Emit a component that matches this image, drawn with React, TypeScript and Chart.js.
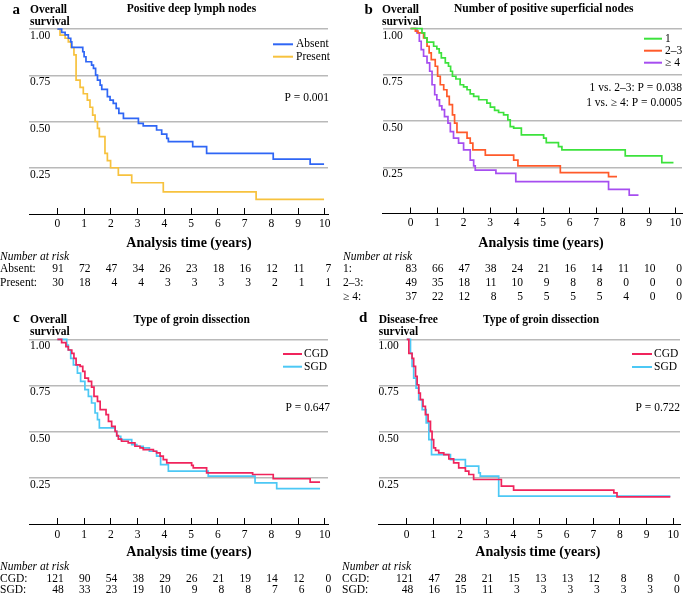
import React, { useEffect, useRef } from "react";
import { Chart, registerables } from "chart.js";

Chart.register(...registerables);

const SERIF = '"Liberation Serif", "Times New Roman", Times, serif';

// ---------- shared axis values ----------
const YEAR_TICKS = [0, 1, 2, 3, 4, 5, 6, 7, 8, 9, 10];
const SURV_TICKS = [0.25, 0.5, 0.75, 1];
const X_MIN = -1.06;

// ---------- panel a: positive deep lymph nodes ----------
const absentTime = [0, 0.16, 0.29, 0.41, 0.5, 0.54, 0.95, 1.0, 1.07, 1.28, 1.35, 1.43, 1.5, 1.6, 1.66, 1.87, 1.97, 2.09, 2.2, 2.3, 2.47, 3.03, 3.21, 3.71, 3.9, 4.09, 4.15, 5.06, 5.58, 8.07, 9.45, 9.97];
const absentSurv = [1, 0.982, 0.968, 0.95, 0.93, 0.901, 0.877, 0.85, 0.823, 0.805, 0.787, 0.751, 0.724, 0.697, 0.674, 0.634, 0.616, 0.598, 0.571, 0.544, 0.517, 0.49, 0.476, 0.454, 0.432, 0.409, 0.391, 0.364, 0.328, 0.297, 0.27, 0.27];
const presentTime = [0, 0.1, 0.29, 0.41, 0.51, 0.62, 0.7, 0.85, 0.97, 1.12, 1.22, 1.32, 1.41, 1.5, 1.57, 1.78, 1.87, 1.99, 2.28, 2.78, 3.96, 7.43, 9.97];
const presentSurv = [1, 0.967, 0.95, 0.93, 0.9, 0.86, 0.724, 0.685, 0.65, 0.616, 0.577, 0.535, 0.5, 0.463, 0.418, 0.328, 0.288, 0.25, 0.21, 0.169, 0.12, 0.079, 0.079];
const riskAbsent = [91, 72, 47, 34, 26, 23, 18, 16, 12, 11, 7];
const riskPresent = [30, 18, 4, 4, 3, 3, 3, 3, 2, 1, 1];

// ---------- panel b: number of positive superficial nodes ----------
const n1Time = [0, 0.43, 0.53, 0.62, 0.87, 0.99, 1.08, 1.16, 1.31, 1.43, 1.51, 1.58, 1.71, 1.87, 2.0, 2.13, 2.25, 2.38, 2.57, 2.88, 3.01, 3.17, 3.32, 3.51, 3.67, 3.76, 3.89, 4.18, 5.02, 5.12, 5.58, 5.71, 8.1, 9.48, 9.92];
const n1Surv = [1, 0.976, 0.949, 0.926, 0.904, 0.89, 0.868, 0.841, 0.814, 0.796, 0.769, 0.742, 0.727, 0.696, 0.684, 0.669, 0.647, 0.633, 0.615, 0.597, 0.575, 0.557, 0.546, 0.533, 0.506, 0.47, 0.461, 0.425, 0.407, 0.383, 0.362, 0.344, 0.311, 0.275, 0.275];
const n23Time = [0, 0.18, 0.28, 0.49, 0.62, 0.7, 0.78, 0.93, 1.02, 1.12, 1.25, 1.37, 1.46, 1.58, 1.66, 1.75, 2.13, 2.25, 2.35, 2.82, 3.89, 4.05, 5.65, 7.47, 7.79];
const n23Surv = [1, 0.986, 0.976, 0.949, 0.904, 0.868, 0.832, 0.796, 0.742, 0.696, 0.669, 0.633, 0.588, 0.533, 0.488, 0.438, 0.407, 0.38, 0.344, 0.316, 0.289, 0.257, 0.221, 0.199, 0.199];
const n4Time = [0, 0.24, 0.33, 0.4, 0.49, 0.62, 0.72, 0.81, 0.91, 0.99, 1.09, 1.18, 1.28, 1.41, 1.5, 1.62, 1.81, 2.0, 2.25, 2.38, 2.44, 3.22, 3.97, 7.47, 8.25, 8.6];
const n4Surv = [1, 0.976, 0.931, 0.886, 0.85, 0.814, 0.769, 0.696, 0.642, 0.615, 0.582, 0.561, 0.524, 0.488, 0.443, 0.407, 0.38, 0.344, 0.289, 0.257, 0.235, 0.217, 0.172, 0.13, 0.099, 0.099];
const riskN1 = [83, 66, 47, 38, 24, 21, 16, 14, 11, 10, 0];
const riskN23 = [49, 35, 18, 11, 10, 9, 8, 8, 0, 0, 0];
const riskN4 = [37, 22, 12, 8, 5, 5, 5, 5, 4, 0, 0];

// ---------- panel c: overall survival by groin dissection ----------
const cgdOsTime = [0, 0.16, 0.32, 0.41, 0.54, 0.62, 0.7, 0.85, 0.95, 1.03, 1.16, 1.28, 1.37, 1.5, 1.6, 1.82, 1.91, 2.03, 2.16, 2.22, 2.28, 2.4, 2.65, 2.9, 3.09, 3.21, 3.59, 3.71, 3.84, 3.96, 4.09, 5.02, 5.08, 5.58, 7.3, 8.07, 9.45, 9.82];
const cgdOsSurv = [1, 0.982, 0.96, 0.942, 0.924, 0.897, 0.862, 0.853, 0.826, 0.79, 0.772, 0.741, 0.691, 0.664, 0.619, 0.592, 0.556, 0.529, 0.502, 0.478, 0.46, 0.448, 0.439, 0.421, 0.412, 0.403, 0.394, 0.385, 0.367, 0.349, 0.331, 0.317, 0.304, 0.277, 0.268, 0.245, 0.227, 0.227];
const sgdOsTime = [0, 0.35, 0.41, 0.5, 0.6, 0.75, 0.87, 1.03, 1.16, 1.28, 1.41, 1.5, 1.57, 2.16, 2.22, 2.37, 2.78, 2.97, 3.21, 3.44, 3.71, 3.86, 4.15, 5.64, 7.39, 8.2, 9.82];
const sgdOsSurv = [1, 0.969, 0.942, 0.897, 0.862, 0.817, 0.772, 0.727, 0.691, 0.655, 0.601, 0.565, 0.52, 0.502, 0.475, 0.457, 0.43, 0.421, 0.412, 0.394, 0.367, 0.322, 0.286, 0.259, 0.223, 0.191, 0.191];
const riskCgdOs = [121, 90, 54, 38, 29, 26, 21, 19, 14, 12, 0];
const riskSgdOs = [48, 33, 23, 19, 10, 9, 8, 8, 7, 6, 0];

// ---------- panel d: disease-free survival by groin dissection ----------
const cgdDfsTime = [0, 0.08, 0.2, 0.26, 0.33, 0.39, 0.45, 0.51, 0.61, 0.7, 0.8, 0.89, 0.95, 1.01, 1.08, 1.2, 1.39, 1.58, 1.76, 1.95, 2.2, 2.33, 2.51, 3.55, 4.01, 7.77, 7.89, 9.89];
const cgdDfsSurv = [1, 0.924, 0.897, 0.853, 0.799, 0.754, 0.709, 0.673, 0.637, 0.592, 0.556, 0.502, 0.457, 0.412, 0.399, 0.385, 0.376, 0.353, 0.331, 0.304, 0.286, 0.268, 0.241, 0.205, 0.183, 0.169, 0.147, 0.147];
const sgdDfsTime = [0, 0.14, 0.2, 0.26, 0.35, 0.45, 0.58, 0.73, 0.83, 0.93, 1.64, 2.2, 2.7, 2.76, 3.45, 9.89];
const sgdDfsSurv = [1, 0.924, 0.853, 0.79, 0.736, 0.673, 0.619, 0.547, 0.457, 0.376, 0.349, 0.313, 0.277, 0.259, 0.151, 0.151];
const riskCgdDfs = [121, 47, 28, 21, 15, 13, 13, 12, 8, 8, 0];
const riskSgdDfs = [48, 16, 15, 11, 3, 3, 3, 3, 3, 3, 0];

// ---------- types ----------
type Series = { label: string; color: string; time: number[]; surv: number[] };
type RiskRow = { label: string; values: number[] };
type PanelSpec = {
  left: number; top: number; width: number; height: number;
  area: [number, number, number, number];
  perYear: number;
  tickPad: number; yTickPad: number;
  letter: string; letterX: number; letterY: number;
  yTitle: string[]; yTitleX: number; yTitleBase: number[];
  title: string; titleX: number; titleBase: number;
  legendX: [number, number, number]; legendY: number[];
  pText: string[]; pRight: number; pY: number[];
  xTitleY: number; riskX: number; riskHeadY: number; riskRowY: number[];
  series: Series[]; risk: RiskRow[];
};

const COLORS = {
  absent: "#2f66f5",
  present: "#f7c23e",
  n1: "#3ce23c",
  n23: "#ff5a2a",
  n4: "#a64ef0",
  cgd: "#f0245c",
  sgd: "#4cc8f5",
};

const PANELS: PanelSpec[] = [
  {
    left: 0, top: 0, width: 342, height: 300,
    area: [29, 328, 29, 214], perYear: 26.75, tickPad: 8.6, yTickPad: 1,
    letter: "a", letterX: 12.5, letterY: 10.5,
    yTitle: ["Overall", "survival"], yTitleX: 30, yTitleBase: [12.5, 25],
    title: "Positive deep lymph nodes", titleX: 191.5, titleBase: 12,
    legendX: [273, 293, 296], legendY: [44.3, 56.7],
    pText: ["P = 0.001"], pRight: 329, pY: [98.3],
    xTitleY: 243.3, riskX: 0, riskHeadY: 256.7, riskRowY: [269.3, 282.7],
    series: [
      { label: "Absent", color: COLORS.absent, time: absentTime, surv: absentSurv },
      { label: "Present", color: COLORS.present, time: presentTime, surv: presentSurv },
    ],
    risk: [
      { label: "Absent:", values: riskAbsent },
      { label: "Present:", values: riskPresent },
    ],
  },
  {
    left: 342, top: 0, width: 343, height: 300,
    area: [40.5, 340, 28.5, 213.5], perYear: 26.5, tickPad: 8.6, yTickPad: 0,
    letter: "b", letterX: 22.5, letterY: 10.5,
    yTitle: ["Overall", "survival"], yTitleX: 40, yTitleBase: [12.5, 25],
    title: "Number of positive superficial nodes", titleX: 201.7, titleBase: 12,
    legendX: [302, 320, 323], legendY: [38.7, 50.7, 62.7],
    pText: ["1 vs. 2\u20133: P = 0.038", "1 vs. \u2265 4: P = 0.0005"], pRight: 340, pY: [88.3, 103.3],
    xTitleY: 243.3, riskX: 1, riskHeadY: 256.7, riskRowY: [269.3, 282.7, 296.7],
    series: [
      { label: "1", color: COLORS.n1, time: n1Time, surv: n1Surv },
      { label: "2\u20133", color: COLORS.n23, time: n23Time, surv: n23Surv },
      { label: "\u2265 4", color: COLORS.n4, time: n4Time, surv: n4Surv },
    ],
    risk: [
      { label: "1:", values: riskN1 },
      { label: "2\u20133:", values: riskN23 },
      { label: "\u2265 4:", values: riskN4 },
    ],
  },
  {
    left: 0, top: 300, width: 342, height: 298,
    area: [29, 328, 39.3, 224], perYear: 26.75, tickPad: 10, yTickPad: 1,
    letter: "c", letterX: 13, letterY: 18.3,
    yTitle: ["Overall", "survival"], yTitleX: 30, yTitleBase: [22.8, 35.3],
    title: "Type of groin dissection", titleX: 191.7, titleBase: 22.5,
    legendX: [283, 302, 304], legendY: [54, 66.7],
    pText: ["P = 0.647"], pRight: 330, pY: [108.3],
    xTitleY: 252.7, riskX: 0, riskHeadY: 266.7, riskRowY: [279.3, 290],
    series: [
      { label: "CGD", color: COLORS.cgd, time: cgdOsTime, surv: cgdOsSurv },
      { label: "SGD", color: COLORS.sgd, time: sgdOsTime, surv: sgdOsSurv },
    ],
    risk: [
      { label: "CGD:", values: riskCgdOs },
      { label: "SGD:", values: riskSgdOs },
    ],
  },
  {
    left: 342, top: 300, width: 343, height: 298,
    area: [36.5, 338, 39.3, 224], perYear: 26.65, tickPad: 10, yTickPad: 0,
    letter: "d", letterX: 17, letterY: 18.3,
    yTitle: ["Disease-free", "survival"], yTitleX: 36.7, yTitleBase: [22.8, 35.3],
    title: "Type of groin dissection", titleX: 199, titleBase: 22.5,
    legendX: [290, 310, 312], legendY: [54, 67],
    pText: ["P = 0.722"], pRight: 338, pY: [108],
    xTitleY: 252.7, riskX: 0, riskHeadY: 266.7, riskRowY: [279.3, 290],
    series: [
      { label: "CGD", color: COLORS.cgd, time: cgdDfsTime, surv: cgdDfsSurv },
      { label: "SGD", color: COLORS.sgd, time: sgdDfsTime, surv: sgdDfsSurv },
    ],
    risk: [
      { label: "CGD:", values: riskCgdDfs },
      { label: "SGD:", values: riskSgdDfs },
    ],
  },
];

function makeTextPlugin(p: PanelSpec) {
  return {
    id: "panelText",
    afterDraw(chart: any) {
      const ctx: CanvasRenderingContext2D = chart.ctx;
      const xs = chart.scales.x;
      ctx.save();
      ctx.fillStyle = "#000";
      // panel letter
      ctx.font = `bold 15px ${SERIF}`;
      ctx.textAlign = "left";
      ctx.textBaseline = "middle";
      ctx.fillText(p.letter, p.letterX, p.letterY);
      // y title & panel title
      ctx.font = `bold 11.5px ${SERIF}`;
      ctx.textBaseline = "alphabetic";
      p.yTitle.forEach((s, i) => ctx.fillText(s, p.yTitleX, p.yTitleBase[i]));
      ctx.textAlign = "center";
      ctx.fillText(p.title, p.titleX, p.titleBase);
      // legend
      ctx.font = `11.5px ${SERIF}`;
      ctx.textBaseline = "middle";
      ctx.textAlign = "left";
      p.series.forEach((s, i) => {
        ctx.strokeStyle = s.color;
        ctx.lineWidth = 2;
        ctx.beginPath();
        ctx.moveTo(p.legendX[0], p.legendY[i]);
        ctx.lineTo(p.legendX[1], p.legendY[i]);
        ctx.stroke();
        ctx.fillText(s.label, p.legendX[2], p.legendY[i]);
      });
      // p values
      ctx.textAlign = "right";
      p.pText.forEach((s, i) => ctx.fillText(s, p.pRight, p.pY[i]));
      // x title
      ctx.font = `bold 14px ${SERIF}`;
      ctx.textAlign = "center";
      ctx.fillText("Analysis time (years)", xs.getPixelForValue(4.92), p.xTitleY);
      // number at risk
      ctx.font = `italic 11.5px ${SERIF}`;
      ctx.textAlign = "left";
      ctx.fillText("Number at risk", p.riskX, p.riskHeadY);
      ctx.font = `11.5px ${SERIF}`;
      p.risk.forEach((r, i) => {
        ctx.textAlign = "left";
        ctx.fillText(r.label, p.riskX, p.riskRowY[i]);
        ctx.textAlign = "right";
        r.values.forEach((v, j) => {
          ctx.fillText(String(v), xs.getPixelForValue(YEAR_TICKS[j]) + 6.5, p.riskRowY[i]);
        });
      });
      ctx.restore();
    },
  };
}

const X_AXIS_H = 20;

function buildConfig(p: PanelSpec): any {
  const [l, r, t, b] = p.area;
  const xMax = X_MIN + (r - l) / p.perYear;
  const tickFont = { family: SERIF, size: 11.5 };
  return {
    type: "line",
    data: {
      datasets: p.series.map((s) => ({
        label: s.label,
        data: s.time.map((x, i) => ({ x, y: s.surv[i] })),
        borderColor: s.color,
        backgroundColor: s.color,
        borderWidth: 1.7,
        pointRadius: 0,
        pointHoverRadius: 0,
        stepped: "before",
        fill: false,
        tension: 0,
        clip: 6,
      })),
    },
    options: {
      animation: false,
      responsive: false,
      maintainAspectRatio: false,
      events: [],
      layout: { padding: { left: l, right: p.width - r, top: t, bottom: p.height - b - X_AXIS_H } },
      plugins: { legend: { display: false }, tooltip: { enabled: false }, title: { display: false } },
      scales: {
        x: {
          type: "linear",
          position: "bottom",
          min: X_MIN,
          max: xMax,
          afterBuildTicks: (s: any) => {
            s.ticks = YEAR_TICKS.map((v) => ({ value: v }));
          },
          afterFit: (s: any) => {
            s.height = X_AXIS_H;
            s.paddingLeft = 0;
            s.paddingRight = 0;
          },
          grid: {
            display: true,
            drawOnChartArea: false,
            drawTicks: true,
            tickLength: -6,
            color: "#000",
            tickColor: "#000",
            tickWidth: 1,
            lineWidth: 1,
          },
          border: { display: true, color: "#000", width: 1 },
          ticks: { padding: p.tickPad, color: "#000", font: tickFont, maxRotation: 0, autoSkip: false },
        },
        y: {
          type: "linear",
          min: 0,
          max: 1,
          afterBuildTicks: (s: any) => {
            s.ticks = SURV_TICKS.map((v) => ({ value: v }));
          },
          afterFit: (s: any) => {
            s.width = 0;
            s.paddingTop = 0;
            s.paddingBottom = 0;
          },
          grid: { color: "#b9b9b9", lineWidth: 1.5, drawTicks: false },
          border: { display: false },
          ticks: {
            mirror: true,
            padding: p.yTickPad,
            labelOffset: 7,
            color: "#000",
            font: tickFont,
            callback: (v: any) => Number(v).toFixed(2),
          },
        },
      },
    },
    plugins: [makeTextPlugin(p)],
  };
}

function Panel({ spec }: { spec: PanelSpec }) {
  const ref = useRef<HTMLCanvasElement | null>(null);
  useEffect(() => {
    if (!ref.current) return;
    const chart = new Chart(ref.current, buildConfig(spec));
    return () => chart.destroy();
  }, [spec]);
  return (
    <canvas
      ref={ref}
      width={spec.width}
      height={spec.height}
      style={{ position: "absolute", left: spec.left, top: spec.top, width: spec.width, height: spec.height }}
    />
  );
}

export default function App() {
  return (
    <div style={{ position: "absolute", left: 0, top: 0, width: 685, height: 598, background: "#fff", overflow: "hidden" }}>
      {PANELS.map((p, i) => (
        <Panel key={i} spec={p} />
      ))}
    </div>
  );
}
